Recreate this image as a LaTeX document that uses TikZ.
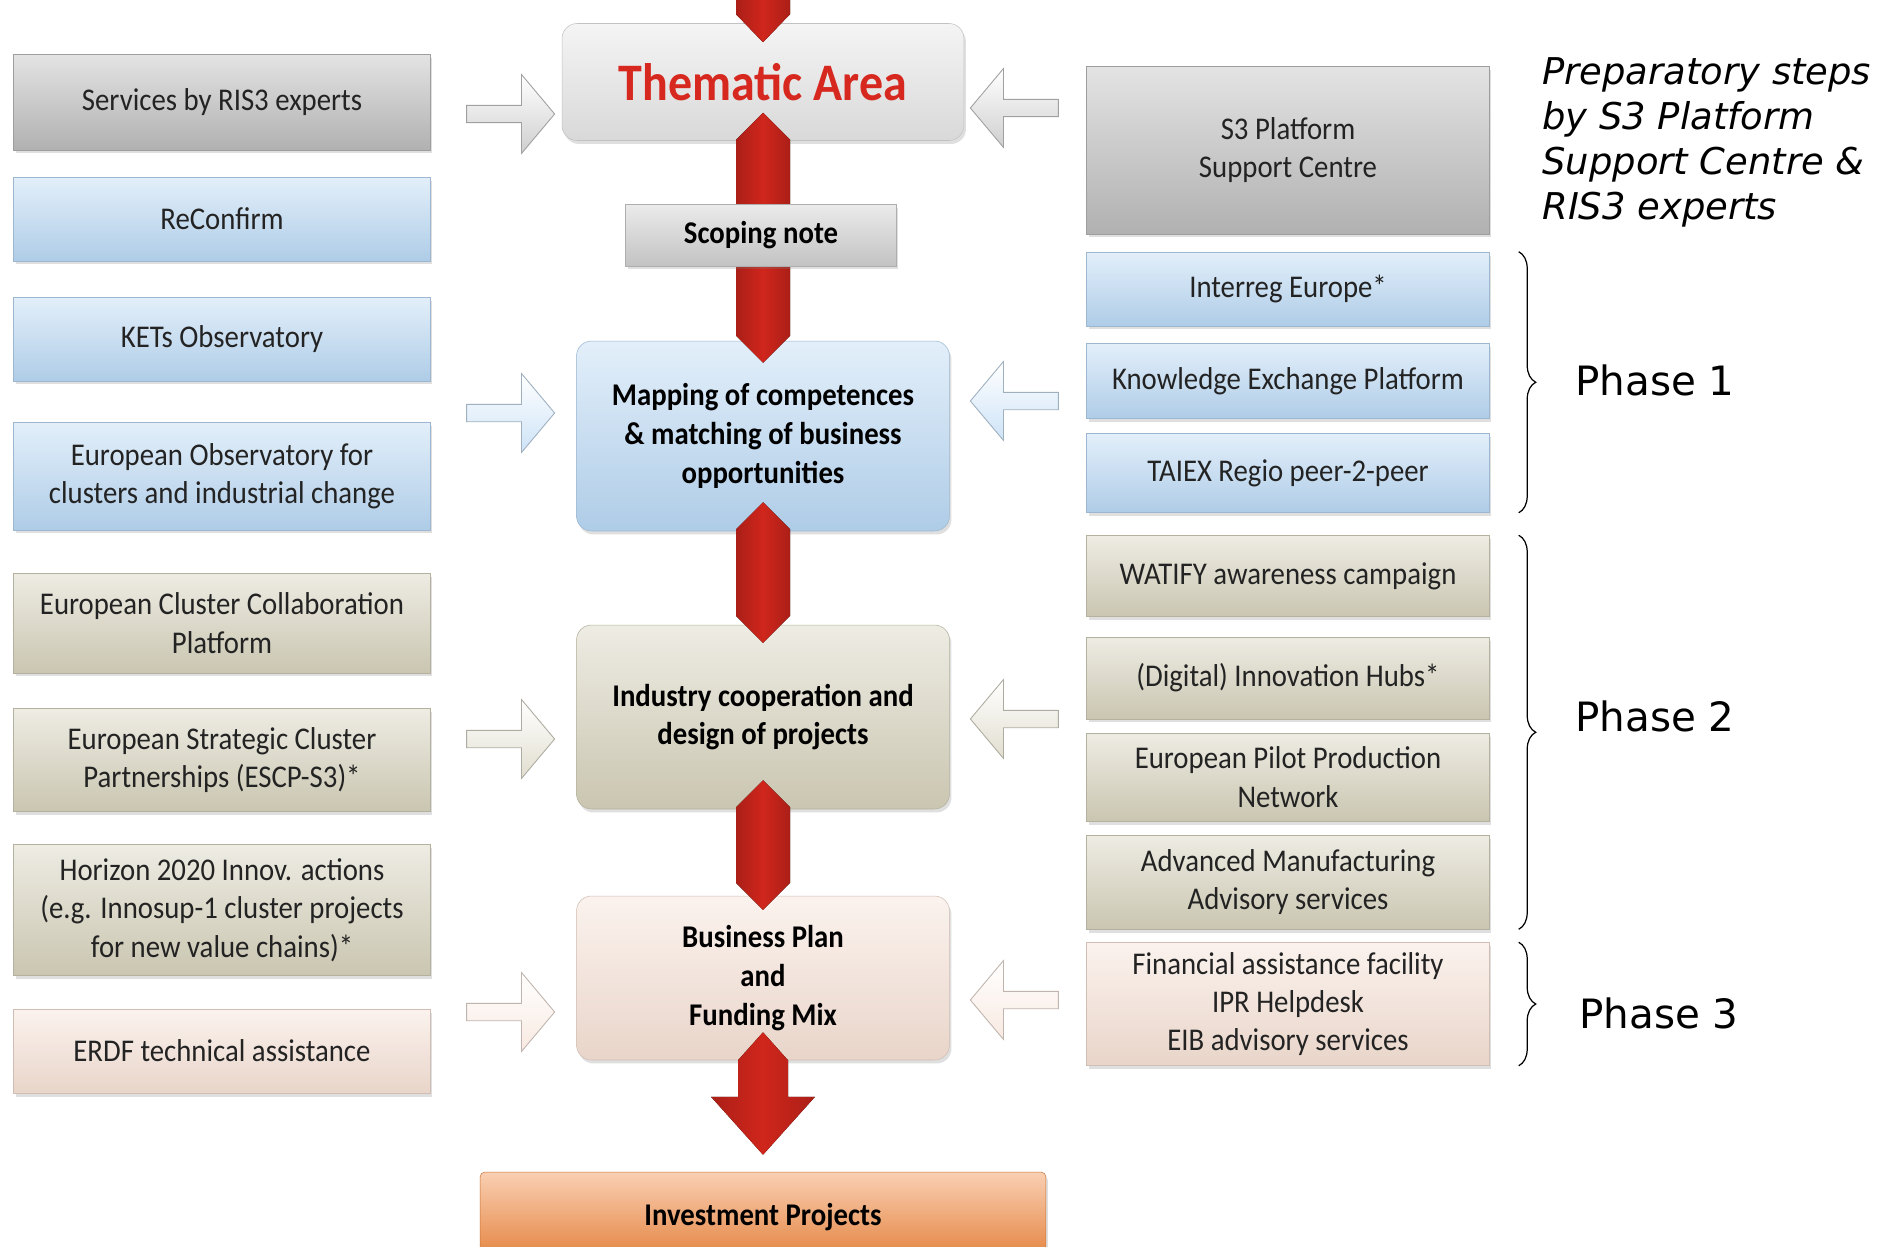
\documentclass[tikz,border=0pt]{standalone}
\usepackage{fontspec}
\setmainfont{Carlito}[FakeStretch=0.91]
\newfontfamily\notefont{DejaVu Sans}
\usepackage{tikz}
\usetikzlibrary{shapes.arrows,shadows,calc,decorations.pathreplacing}
\usepackage{xcolor}
\definecolor{boxgrey}{RGB}{186,186,186}
\definecolor{themegrey}{RGB}{228,228,228}
\definecolor{scopegrey}{RGB}{205,205,205}
\definecolor{boxblue}{RGB}{184,215,243}
\definecolor{boxbeige}{RGB}{212,208,186}
\definecolor{boxpink}{RGB}{245,224,212}
\definecolor{boxorange}{RGB}{240,136,64}
\definecolor{arrowred}{RGB}{208,38,28}
\definecolor{titlered}{RGB}{214,40,30}
\definecolor{textgrey}{RGB}{35,35,35}
\newcommand\redhex[2]{\fill[redfill] (#1) -- ++(27,27) -- ($(#2)+(27,-27)$) -- (#2)
  -- ($(#2)+(-27,-27)$) -- ($(#1)+(-27,27)$) -- cycle;}

\begin{document}
\begin{tikzpicture}[x=0.02cm, y=-0.02cm,
  card/.style={rectangle, anchor=center, align=center, inner sep=0pt, text=textgrey,
    font=\fontsize{18}{21.8}\selectfont, top color=#1!40!white, bottom color=#1!95!black,
    draw=#1!85!black, line width=0.3pt,
    drop shadow={shadow xshift=0.04cm, shadow yshift=-0.07cm, opacity=0.25}},
  lcard/.style={card=#1, minimum width=8.34cm},
  rcard/.style={card=#1, minimum width=8.06cm},
  stage/.style={card=#1, rounded corners=0.3cm, minimum width=7.46cm,
    font=\fontsize{18}{22}\selectfont\bfseries, text=black},
  hollow/.style={single arrow, draw=#1!55!gray, line width=0.5pt, top color=white,
    bottom color=#1!70!white, minimum height=1.76cm, inner xsep=0pt, inner ysep=0.165cm,
    single arrow head extend=0.615cm, single arrow tip angle=100},
  redfill/.style={left color=arrowred!82!black, right color=arrowred!82!black, middle color=arrowred},
  phase/.style={font=\notefont\fontsize{23}{27}\selectfont, anchor=west, inner sep=0pt}]
  \useasboundingbox (0,0) rectangle (1879,1247);
  \clip (0,0) rectangle (1879,1247);
  \fill[white] (0,0) rectangle (1879,1247);

  \node[lcard=boxgrey, minimum height=1.92cm] (serv) at (222,102) {Services by RIS3 experts};
  \node[lcard=boxblue, minimum height=1.68cm] (reconf) at (222,219) {ReConfirm};
  \node[lcard=boxblue, minimum height=1.68cm] (kets) at (222,339) {KETs Observatory};
  \node[lcard=boxblue, minimum height=2.16cm] (eoc) at (222,476) {European Observatory for\\clusters and industrial change};
  \node[lcard=boxbeige, minimum height=2cm] (eccp) at (222,623) {European Cluster Collaboration\\Platform};
  \node[lcard=boxbeige, minimum height=2.06cm] (escp) at (222,760) {European Strategic Cluster\\Partnerships (ESCP-S3)*};
  \node[lcard=boxbeige, minimum height=2.62cm] (hor) at (222,910) {Horizon 2020 Innov. actions\\(e.g. Innosup-1 cluster projects\\for new value chains)*};
  \node[lcard=boxpink, minimum height=1.68cm] (erdf) at (222,1051) {ERDF technical assistance};

  \node[rcard=boxgrey, minimum height=3.36cm] (s3) at (1288,150) {S3 Platform\\Support Centre};
  \node[rcard=boxblue, minimum height=1.48cm] (intr) at (1288,289) {Interreg Europe*};
  \node[rcard=boxblue, minimum height=1.5cm] (kep) at (1288,381) {Knowledge Exchange Platform};
  \node[rcard=boxblue, minimum height=1.58cm] (taiex) at (1288,473) {TAIEX Regio peer-2-peer};
  \node[rcard=boxbeige, minimum height=1.62cm] (wat) at (1288,576) {WATIFY awareness campaign};
  \node[rcard=boxbeige, minimum height=1.64cm] (dih) at (1288,678) {(Digital) Innovation Hubs*};
  \node[rcard=boxbeige, minimum height=1.76cm] (eppn) at (1288,777) {European Pilot Production\\Network};
  \node[rcard=boxbeige, minimum height=1.88cm] (ams) at (1288,882) {Advanced Manufacturing\\Advisory services};
  \node[rcard=boxpink, minimum height=2.46cm] (fin) at (1288,1004) {Financial assistance facility\\IPR Helpdesk\\EIB advisory services};

  \node[stage=themegrey, minimum width=8.04cm, minimum height=2.34cm, text=titlered,
    font=\fontsize{30}{36}\selectfont\bfseries] (them) at (763,82) {Thematic Area};
  \node[stage=boxblue, minimum height=3.8cm] (map) at (763,436) {Mapping of competences\\\& matching of business\\opportunities};
  \node[stage=boxbeige, minimum height=3.68cm] (ind) at (763,717) {Industry cooperation and\\design of projects};
  \node[stage=boxpink, minimum height=3.28cm] (bus) at (763,978) {Business Plan\\and\\Funding Mix};
  \node[card=boxorange, rounded corners=0.1cm, minimum width=11.32cm, minimum height=1.8cm,
    font=\fontsize{18}{22}\selectfont\bfseries, text=black] (inv) at (763,1217) {Investment Projects};

  \node[hollow=boxgrey] (la1) at (507,114) {};
  \node[hollow=boxblue] (la2) at (507,413) {};
  \node[hollow=boxbeige] (la3) at (507,739) {};
  \node[hollow=boxpink] (la4) at (507,1012) {};
  \node[hollow=boxgrey, shape border rotate=180] (ra1) at (1018,108) {};
  \node[hollow=boxblue, shape border rotate=180] (ra2) at (1018,401) {};
  \node[hollow=boxbeige, shape border rotate=180] (ra3) at (1018,719) {};
  \node[hollow=boxpink, shape border rotate=180] (ra4) at (1018,1000) {};

  \coordinate (t0) at ($(them.north)+(0,19)$);
  \fill[redfill] ($(t0)+(-27,-80)$) -- ($(t0)+(27,-80)$) -- ($(t0)+(27,-28)$) -- (t0)
    -- ($(t0)+(-27,-28)$) -- cycle;
  \coordinate (h1a) at ($(them.south)+(0,-28)$);
  \coordinate (h1b) at ($(map.north)+(0,22)$);
  \coordinate (h2a) at ($(map.south)+(0,-29)$);
  \coordinate (h2b) at ($(ind.north)+(0,18)$);
  \coordinate (h3a) at ($(ind.south)+(0,-29)$);
  \coordinate (h3b) at ($(bus.north)+(0,14)$);
  \redhex{h1a}{h1b}
  \redhex{h2a}{h2b}
  \redhex{h3a}{h3b}
  \coordinate (b1) at ($(bus.south)+(0,-28)$);
  \coordinate (b2) at ($(inv.north)+(0,-17)$);
  \fill[redfill] (b1) -- ++(25,28) -- ($(b2)+(25,-58)$) -- ($(b2)+(52,-58)$) -- (b2)
    -- ($(b2)+(-52,-58)$) -- ($(b2)+(-25,-58)$) -- ($(b1)+(-25,28)$) -- cycle;

  \node[card=scopegrey, minimum width=5.42cm, minimum height=1.24cm,
    font=\fontsize{18}{22}\selectfont\bfseries, text=black] (scop) at (761,235) {Scoping note};

  \draw[decorate, decoration={brace, amplitude=0.34cm}, line width=0.7pt]
    ([xshift=0.58cm]intr.north east) -- ([xshift=0.58cm]taiex.south east);
  \draw[decorate, decoration={brace, amplitude=0.34cm}, line width=0.7pt]
    ([xshift=0.58cm]wat.north east) -- ([xshift=0.58cm]ams.south east);
  \draw[decorate, decoration={brace, amplitude=0.34cm}, line width=0.7pt]
    ([xshift=0.58cm]fin.north east) -- ([xshift=0.58cm]fin.south east);
  \node[phase] (ph1) at (1575,380) {Phase 1};
  \node[phase] (ph2) at (1575,716) {Phase 2};
  \node[phase] (ph3) at (1579,1013) {Phase 3};
  \node[font=\notefont\itshape\fontsize{21}{25.6}\selectfont, align=left, anchor=north west,
    inner sep=0pt] (prep) at (1542,57) {Preparatory steps\\by S3 Platform\\Support Centre \&\\RIS3 experts};
\end{tikzpicture}
\end{document}
